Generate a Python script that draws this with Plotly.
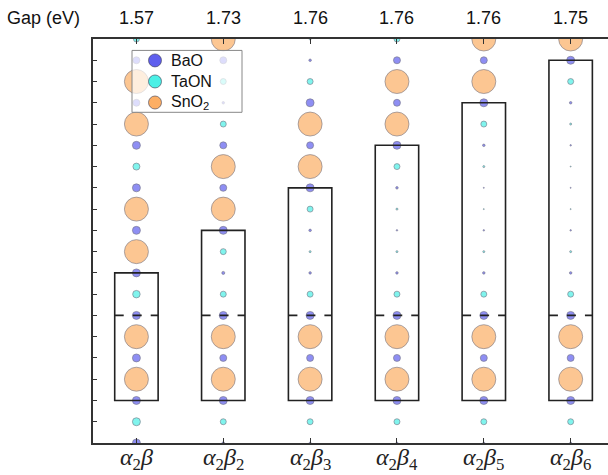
import plotly.graph_objects as go

# ---------------- data ----------------
cells = ["α2β", "α2β2", "α2β3", "α2β4", "α2β5", "α2β6"]
tick_html = [
    "<i>α</i><sub>2</sub><i>β</i>",
    "<i>α</i><sub>2</sub><i>β</i><sub>2</sub>",
    "<i>α</i><sub>2</sub><i>β</i><sub>3</sub>",
    "<i>α</i><sub>2</sub><i>β</i><sub>4</sub>",
    "<i>α</i><sub>2</sub><i>β</i><sub>5</sub>",
    "<i>α</i><sub>2</sub><i>β</i><sub>6</sub>",
]
gaps = ["1.57", "1.73", "1.76", "1.76", "1.76", "1.75"]
layers = list(range(20))
box_bottom = [2, 2, 2, 2, 2, 2]
box_top = [8, 10, 12, 14, 16, 18]
dash_level = [6, 6, 6, 6, 6, 6]

# species per layer (B = BaO, T = TaON, S = SnO2), bottom to top
species_c1 = "BTBSBSBTBSBSBTBSBSBT"
species_c2 = "BTBSBSBTBTBSBSBTBTBS"
species_c3 = "BTBSBSBTBTBTBSBSBTBT"
species_c4 = "BTBSBSBTBTBTBTBSBSBT"
species_c5 = "BTBSBSBTBTBTBTBTBSBS"
species_c6 = "BTBSBSBTBTBTBTBTBTBS"

# layer weights (marker diameter, px)
weight_c1 = [9, 9, 9, 25, 9, 25, 9, 8.5, 9, 25, 9, 25, 9, 8, 9, 25, 8, 25, 8, 7]
weight_c2 = [3.5, 7, 9, 25, 8, 25, 9, 7, 4, 7, 9, 25, 8, 25, 8, 7, 3.5, 7, 8, 25]
weight_c3 = [3, 7, 9, 25, 8, 25, 9, 7, 3.5, 3, 3.5, 7, 9, 25, 8, 25, 9, 7, 3.5, 3]
weight_c4 = [3, 7, 9, 25, 8, 25, 9, 7, 3.5, 3, 2.5, 3, 3.5, 7, 9, 25, 8, 25, 8, 7]
weight_c5 = [3, 7, 9, 25, 8, 25, 9, 7, 3.5, 3, 2.5, 2, 2, 3, 3.5, 7, 9, 25, 8, 25]
weight_c6 = [3, 7, 9, 25, 8, 25, 9, 7, 3.5, 3, 2.5, 2, 1.5, 2, 2.5, 3, 3.5, 7, 9, 25]

species_cols = [species_c1, species_c2, species_c3, species_c4, species_c5, species_c6]
weight_cols = [weight_c1, weight_c2, weight_c3, weight_c4, weight_c5, weight_c6]

species_keys = ["B", "T", "S"]
names = {"B": "BaO", "T": "TaON", "S": "SnO<sub>2</sub>"}
colors = {"B": "rgb(95,95,238)", "T": "rgb(75,240,230)", "S": "rgb(252,174,100)"}
edge = "rgba(60,60,80,0.6)"

fig = go.Figure()
for key in species_keys:
    xs, ys, ss = [], [], []
    for ci, (sp, wt) in enumerate(zip(species_cols, weight_cols)):
        for li, (s, w) in enumerate(zip(sp, wt)):
            if s == key:
                xs.append(ci)
                ys.append(layers[li])
                ss.append(max(w - 1, 1))
    fig.add_trace(go.Scatter(
        x=xs, y=ys, mode="markers", name=names[key], showlegend=False,
        marker=dict(size=ss, color=colors[key], line=dict(color=edge, width=1)),
        cliponaxis=True,
    ))

plot_l, plot_w, plot_top, plot_h = 93, 515, 39.3, 403.4
def px_x(p):
    return (p - plot_l) / plot_w
def px_y(p):
    return (plot_top + plot_h - p) / plot_h

half_w = 0.25
for ci in range(len(cells)):
    fig.add_shape(type="rect", xref="x", yref="y",
                  x0=ci - half_w, x1=ci + half_w, y0=box_bottom[ci], y1=box_top[ci],
                  line=dict(color="#222", width=1.6), layer="above")
    fig.add_shape(type="line", xref="x", yref="y",
                  x0=ci - half_w, x1=ci + half_w, y0=dash_level[ci], y1=dash_level[ci],
                  line=dict(color="#222", width=1.6, dash="dash"), layer="above")
    fig.add_annotation(x=ci, y=1.053, xref="x", yref="paper", text=gaps[ci],
                       showarrow=False, yanchor="middle", xanchor="center",
                       font=dict(family="Liberation Sans, Arial", size=18, color="#111"))
    # category label under the axis
    fig.add_annotation(x=ci, y=px_y(443), xref="x", yref="paper", text=tick_html[ci],
                       showarrow=False, yanchor="top", xanchor="center", borderpad=0,
                       font=dict(family="Liberation Serif, DejaVu Serif", size=24, color="#222"))

fig.add_annotation(x=-0.0215, y=1.053, xref="paper", yref="paper", text="Gap (eV)",
                   showarrow=False, yanchor="middle", xanchor="right",
                   font=dict(family="Liberation Sans, Arial", size=18, color="#111"))

# ---- hand-drawn legend (semi-transparent box over the data) ----
fig.add_shape(type="rect", xref="paper", yref="paper",
              x0=px_x(132), x1=px_x(242), y0=px_y(112.5), y1=px_y(50.7),
              fillcolor="rgba(255,255,255,0.7)", line=dict(color="#888", width=1),
              layer="above")
for i, key in enumerate(species_keys):
    yc = px_y(60.7 + 21 * i)
    fig.add_shape(type="circle", xref="paper", yref="paper",
                  xsizemode="pixel", ysizemode="pixel",
                  xanchor=px_x(155), yanchor=yc, x0=-6.5, x1=6.5, y0=-6.5, y1=6.5,
                  fillcolor=colors[key], line=dict(color=edge, width=1), layer="above")
    fig.add_annotation(x=px_x(169), y=yc, xref="paper", yref="paper", text=names[key],
                       showarrow=False, xanchor="left", yanchor="middle",
                       font=dict(family="Liberation Sans, Arial", size=16, color="#111"))

fig.update_layout(
    width=608, height=475,
    margin=dict(l=93, r=0, t=39, b=32, pad=0, autoexpand=False),
    paper_bgcolor="white", plot_bgcolor="white",
    showlegend=False,
    xaxis=dict(range=[-0.5, 5.43], tickvals=list(range(len(cells))), showticklabels=False,
               automargin=False,
               showgrid=False, zeroline=False, showline=True, linecolor="#333", linewidth=1.5,
               mirror="ticks", ticks="inside", ticklen=5, tickcolor="#333"),
    yaxis=dict(range=[0, 19], dtick=1, tick0=0, showticklabels=False, automargin=False,
               showgrid=False, zeroline=False, showline=True, linecolor="#333", linewidth=1.5,
               ticks="inside", ticklen=4, tickcolor="#333"),
)

fig.write_html("out.html")
